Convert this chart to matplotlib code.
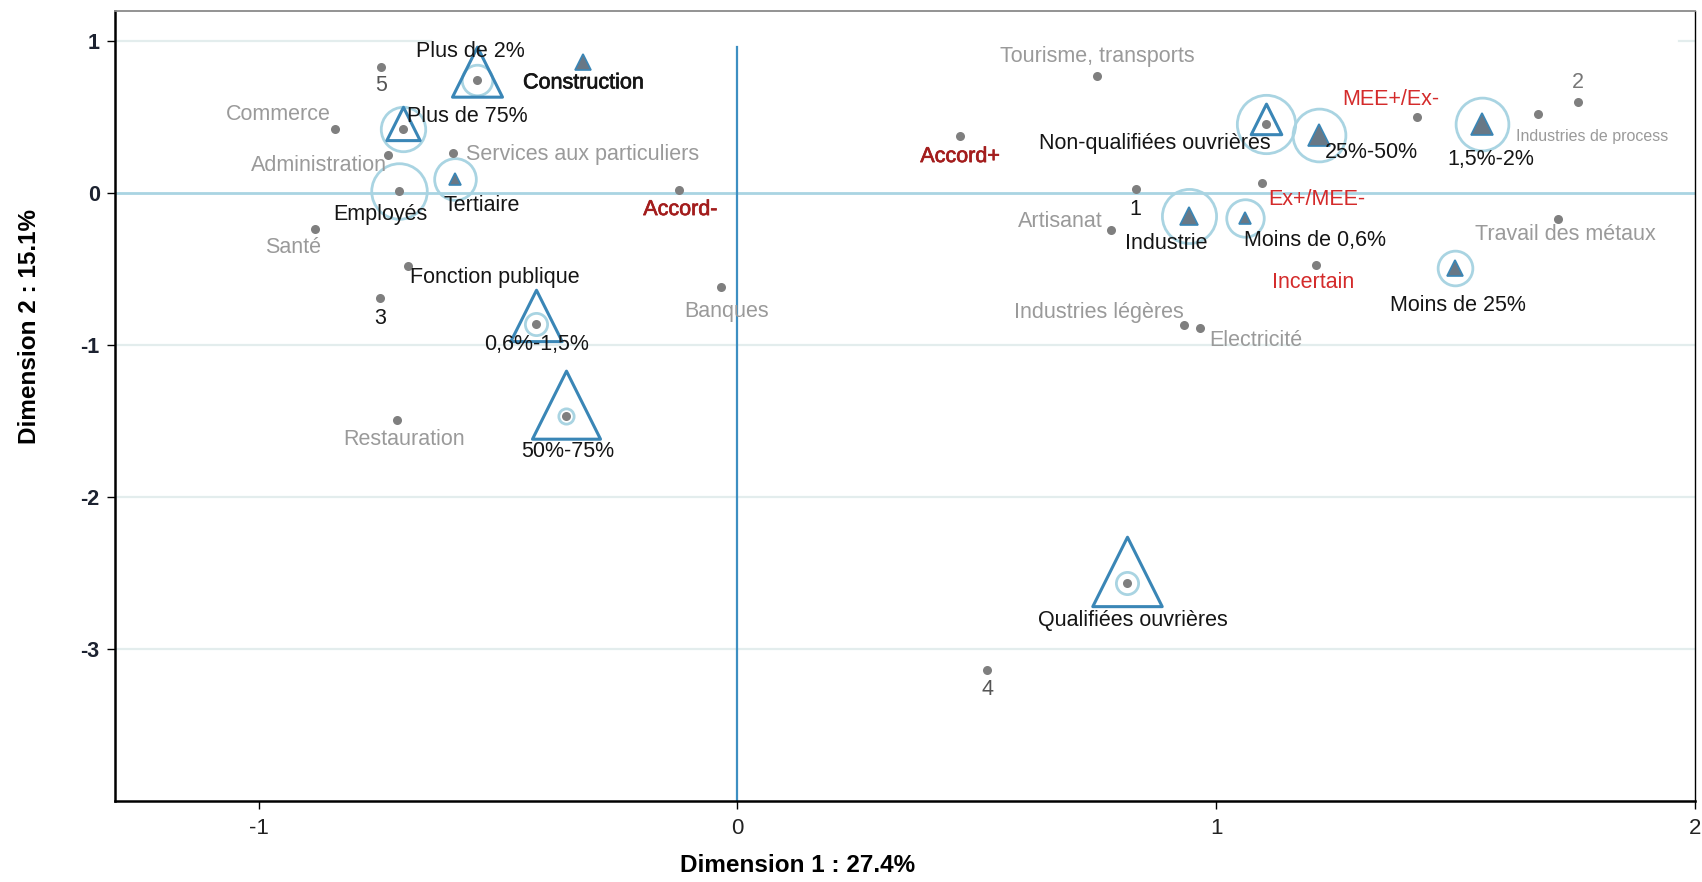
import matplotlib
matplotlib.use("Agg")
import matplotlib.pyplot as plt
import matplotlib.patheffects as pe
from matplotlib.path import Path

plt.rcParams['font.family'] = ['Liberation Sans', 'DejaVu Sans']

# supplementary modalities (grey dots)
sup_names = ["5", "Commerce", "Administration", "Services aux particuliers", "Santé",
             "Fonction publique", "3", "Banques", "Restauration", "Accord-", "Accord+",
             "Tourisme, transports", "1", "Artisanat", "Ex+/MEE-", "MEE+/Ex-",
             "Industries de process", "2", "Travail des métaux", "Incertain",
             "Industries légères", "Electricité", "4"]
sup_x = [-0.744, -0.841, -0.730, -0.594, -0.882, -0.689, -0.746, -0.034, -0.710, -0.122, 0.465,
         0.751, 0.832, 0.780, 1.095, 1.420, 1.673, 1.755, 1.714, 1.209, 0.932, 0.966, 0.522]
sup_y = [0.829, 0.421, 0.250, 0.264, -0.236, -0.479, -0.686, -0.614, -1.493, 0.021, 0.379,
         0.771, 0.029, -0.243, 0.071, 0.500, 0.521, 0.600, -0.171, -0.471, -0.864, -0.886, -3.136]

# active modalities
act_names = ["Plus de 2%", "Construction", "Plus de 75%", "Employés", "Tertiaire",
             "0,6%-1,5%", "50%-75%", "Non-qualifiées ouvrières", "25%-50%", "1,5%-2%",
             "Industrie", "Moins de 0,6%", "Moins de 25%", "Qualifiées ouvrières"]
act_x = [-0.544, -0.322, -0.699, -0.707, -0.590, -0.420, -0.358, 1.104, 1.215, 1.556,
         0.943, 1.061, 1.499, 0.814]
act_y = [0.743, 0.864, 0.421, 0.014, 0.093, -0.857, -1.464, 0.457, 0.386, 0.457,
         -0.150, -0.164, -0.493, -2.564]
# contribution (open triangle), quality (circle), centre mark (0 = dot, else filled triangle)
act_contrib = [36, 0, 24, 0, 0, 37, 49, 22, 0, 0, 0, 0, 0, 50]
act_quality = [22, 0, 32, 40, 30, 16, 11, 42, 38, 38, 39, 27, 25, 16]
act_mark = [0, 12, 0, 0, 9, 0, 0, 0, 16, 16, 13, 9, 12, 0]

GREY = "#9a9a9a"
BLACK = "#151515"
RED = "#d42b2b"
DRED = "#a31d1d"

# label layout: name -> (dx, dy in points, ha, colour)
lab = {
    "5": (0, -13, "center", "#555555"),
    "Commerce": (-41, 11, "center", GREY),
    "Administration": (-50, -7, "center", GREY),
    "Services aux particuliers": (9, -1, "left", GREY),
    "Santé": (-16, -13, "center", GREY),
    "Fonction publique": (2, -8, "left", BLACK),
    "3": (0, -15, "center", BLACK),
    "Banques": (4, -18, "center", GREY),
    "Restauration": (5, -14, "center", GREY),
    "Accord-": (1, -14, "center", DRED),
    "Accord+": (0, -15, "center", DRED),
    "Tourisme, transports": (0, 14, "center", GREY),
    "1": (0, -15, "center", BLACK),
    "Artisanat": (-6, 6, "right", GREY),
    "Ex+/MEE-": (5, -12.5, "left", RED),
    "MEE+/Ex-": (-19, 12.5, "center", RED),
    "Industries de process": (-16, -16, "left", GREY),
    "2": (0, 14, "center", "#777777"),
    "Travail des métaux": (5, -11, "center", GREY),
    "Incertain": (-2, -12.5, "center", RED),
    "Industries légères": (0, 9, "right", GREY),
    "Electricité": (7, -9, "left", GREY),
    "4": (0, -14, "center", "#555555"),
    "Plus de 2%": (-5, 21, "center", BLACK),
    "Construction": (0, -15, "center", BLACK),
    "Plus de 75%": (3, 9, "left", BLACK),
    "Employés": (-13, -17, "center", BLACK),
    "Tertiaire": (19, -19, "center", BLACK),
    "0,6%-1,5%": (0, -15, "center", BLACK),
    "50%-75%": (1, -26, "center", BLACK),
    "Non-qualifiées ouvrières": (-80, -14, "center", BLACK),
    "25%-50%": (38, -13, "center", BLACK),
    "1,5%-2%": (6, -26, "center", BLACK),
    "Industrie": (-16, -20, "center", BLACK),
    "Moins de 0,6%": (50, -16, "center", BLACK),
    "Moins de 25%": (2, -27, "center", BLACK),
    "Qualifiées ouvrières": (4, -27, "center", BLACK),
}

# triangle centred on its centroid
tri = Path([(0, 2 / 3), (-0.5, -1 / 3), (0.5, -1 / 3), (0, 2 / 3)],
           [Path.MOVETO, Path.LINETO, Path.LINETO, Path.CLOSEPOLY])

fig = plt.figure(figsize=(17.02, 8.82), dpi=100)
ax = fig.add_axes([115 / 1702, 1 - 801 / 882, 1580 / 1702, 790 / 882])
ax.set_xlim(-1.3, 2.0)
ax.set_ylim(-4.0, 1.2)

for yy in [-1, -2, -3]:
    ax.axhline(yy, color="#e3eded", lw=1.6, zorder=0)
ax.axhline(1, xmin=0, xmax=0.20, color="#e3eded", lw=1.6, zorder=0)
ax.axhline(1, xmin=0.99, xmax=1, color="#e3eded", lw=1.6, zorder=0)
ax.axhline(0, color="#a9d4e2", lw=2.0, zorder=1)
ax.axvline(0, ymin=0, ymax=(0.96 + 4) / 5.2, color="#3d8fc2", lw=1.6, zorder=1)

ax.plot(sup_x, sup_y, "o", ms=6.5, color="#7f7f7f", mec="none", zorder=4)

for i in range(len(act_names)):
    x, y = act_x[i], act_y[i]
    if act_quality[i]:
        ax.plot(x, y, "o", ms=act_quality[i], mfc="none", mec="#a9d4e2", mew=2.0, zorder=2)
    if act_contrib[i]:
        ax.plot(x, y, marker=tri, ms=act_contrib[i] / 0.75, mfc="none", mec="#3a86b6",
                mew=2.2, zorder=3)
    if act_mark[i]:
        ax.plot(x, y, "^", ms=act_mark[i], mfc="#687886", mec="#3a86b6", mew=1.2, zorder=4)
    else:
        ax.plot(x, y, "o", ms=6.5, color="#7f7f7f", mec="none", zorder=4)

for names, xs, ys in [(sup_names, sup_x, sup_y), (act_names, act_x, act_y)]:
    for n, x, y in zip(names, xs, ys):
        dx, dy, ha, col = lab[n]
        fs = 11.5 if n == "Industries de process" else 15.5
        t = ax.annotate(n, (x, y), xytext=(dx, dy), textcoords="offset points",
                        ha=ha, va="center", fontsize=fs, color=col, zorder=5)
        if n in ("Construction", "Accord+", "Accord-"):
            t.set_path_effects([pe.withStroke(linewidth=0.5, foreground=col)])

for s in ["left", "bottom"]:
    ax.spines[s].set_linewidth(1.8)
    ax.spines[s].set_color("black")
ax.spines["top"].set_color("#8a8a8a")
ax.spines["top"].set_linewidth(1.3)
ax.spines["right"].set_color("black")
ax.spines["right"].set_linewidth(1.0)

ax.set_xticks([-1, 0, 1, 2])
ax.set_xticklabels(["-1", "0", "1", "2"])
ax.set_yticks([1, 0, -1, -2, -3])
ax.set_yticklabels(["1", "0", "-1", "-2", "-3"])
ax.tick_params(axis="x", length=6, width=1, pad=6, labelsize=16, labelcolor="#222222")
ax.tick_params(axis="y", length=6, width=1, pad=5, labelsize=15.5, labelcolor="#1c2230")
for t in ax.get_yticklabels():
    t.set_fontweight("bold")

fig.text(798 / 1702, 1 - 866 / 882, "Dimension 1 : 27.4%", ha="center", va="center",
         fontsize=17.5, fontweight="bold")
fig.text(30 / 1702, 1 - 326 / 882, "Dimension 2 : 15.1%", ha="center", va="center",
         rotation=90, fontsize=17.5, fontweight="bold")

fig.savefig("out.png", dpi=100)
